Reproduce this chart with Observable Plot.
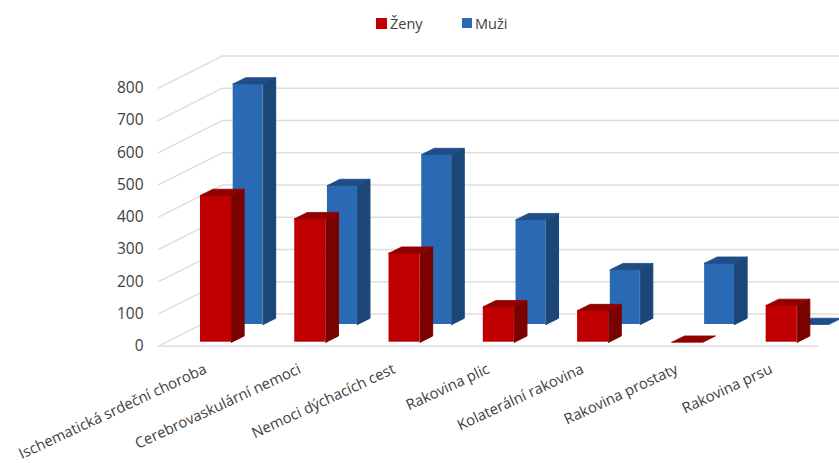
<!DOCTYPE html>
<html lang="cs">
<head>
<meta charset="utf-8">
<script src="https://cdn.jsdelivr.net/npm/d3@7"></script>
<script src="https://cdn.jsdelivr.net/npm/@observablehq/plot@0.6"></script>
<style>
  html, body { margin: 0; padding: 0; background: #fff; }
  #legend { position: relative; height: 46px; font: 14.5px "Open Sans", sans-serif; color: #404040; }
  #legend span { position: absolute; top: 14px; line-height: 19px; }
  #legend i { position: absolute; top: 18px; display: block; }
  #chart svg { display: block; }
</style>
</head>
<body>
<div id="legend">
  <i style="left:376px;width:11px;height:11px;background:#c00000"></i><span style="left:390px">Ženy</span>
  <i style="left:462px;width:10px;height:10px;background:#2a6ab5"></i><span style="left:475px">Muži</span>
</div>
<div id="chart"></div>
<script>
// Causes of death by sex, drawn as pseudo-3D clustered columns.
const causes = [
  "Ischematická srdeční choroba",
  "Cerebrovaskulární nemoci",
  "Nemoci dýchacích cest",
  "Rakovina plic",
  "Kolaterální rakovina",
  "Rakovina prostaty",
  "Rakovina prsu"
];
const zeny = [455, 383, 276, 110, 98, 0, 114];
const muzi = [746, 431, 527, 325, 170, 190, 0];
const yTicks = [0, 100, 200, 300, 400, 500, 600, 700, 800];

// Oblique projection: how far the back wall is shifted, in scale units.
const wallX = 0.68, wallY = 100;
const rightEdge = 7, clipEdge = 7.23;

// Column footprint inside a category band, per series.
const depthX = 0.133, depthY = 19.4;
const zenySeries = {values: zeny, offsetX: 0.445, offsetY: 12.4, width: 0.33, front: "#c00000", side: "#7b0000", top: "#920000"};
const muziSeries = {values: muzi, offsetX: 0.792, offsetY: 67.3, width: 0.318, front: "#2a6ab5", side: "#1a4778", top: "#1f4e86"};

function columns(s) {
  return s.values.map((v, i) => {
    const x1 = i + s.offsetX, x2 = x1 + s.width;
    return {id: i, v, x1, x2, y1: s.offsetY, y2: s.offsetY + v};
  });
}
function sideFace(s) {
  return columns(s).filter(c => c.v > 0).flatMap(c => [
    {id: c.id, x: c.x2, y: c.y1},
    {id: c.id, x: c.x2 + depthX, y: c.y1 + depthY},
    {id: c.id, x: c.x2 + depthX, y: c.y2 + depthY},
    {id: c.id, x: c.x2, y: c.y2},
    {id: c.id, x: c.x2, y: c.y1}
  ]);
}
function topFace(s) {
  return columns(s).flatMap(c => [
    {id: c.id, x: c.x1, y: c.y2},
    {id: c.id, x: c.x1 + depthX, y: c.y2 + depthY},
    {id: c.id, x: c.x2 + depthX, y: c.y2 + depthY},
    {id: c.id, x: c.x2, y: c.y2},
    {id: c.id, x: c.x1, y: c.y2}
  ]);
}
function columnMarks(s) {
  // The side and top go last, with a hairline stroke that closes the seam along the front face.
  return [
    Plot.rect(columns(s).filter(c => c.v > 0), {x1: "x1", x2: "x2", y1: "y1", y2: "y2", fill: s.front}),
    Plot.line(sideFace(s), {x: "x", y: "y", z: "id", fill: s.side, stroke: s.side, strokeWidth: 1}),
    Plot.line(topFace(s), {x: "x", y: "y", z: "id", fill: s.top, stroke: s.top, strokeWidth: 0.8})
  ];
}

// Gridlines: diagonal on the left wall, then horizontal along the back wall.
const grid = yTicks.flatMap(t => [
  {id: t, x: 0, y: t},
  {id: t, x: wallX, y: t + wallY},
  {id: t, x: clipEdge, y: t + wallY}
]);

const chart = Plot.plot({
  width: 839,
  height: 417,
  marginLeft: 158,
  marginRight: 21,
  marginTop: 41.7,
  marginBottom: 117.3,
  style: {fontFamily: "'Open Sans', sans-serif", background: "#fff", overflow: "hidden"},
  x: {domain: [0, rightEdge], axis: null},
  y: {domain: [0, 800]},
  marks: [
    Plot.line(grid, {x: "x", y: "y", z: "id", stroke: "#dedede", strokeWidth: 1.5}),
    Plot.ruleY([0], {x1: 0, x2: rightEdge, stroke: "#dedede", strokeWidth: 1.5}),
    Plot.axisY({ticks: yTicks, tickSize: 0, tickPadding: 15, fontSize: 15.5, color: "#404040", label: null, tickFormat: d => String(d)}),
    ...columnMarks(muziSeries),
    ...columnMarks(zenySeries),
    Plot.text(causes, {
      x: (d, i) => i + 0.5,
      y: 0,
      text: d => d,
      rotate: -25,
      textAnchor: "end",
      dy: 22,
      dx: 0,
      fontSize: 14.8,
      fill: "#404040"
    })
  ]
});
document.getElementById("chart").appendChild(chart);
</script>
</body>
</html>
